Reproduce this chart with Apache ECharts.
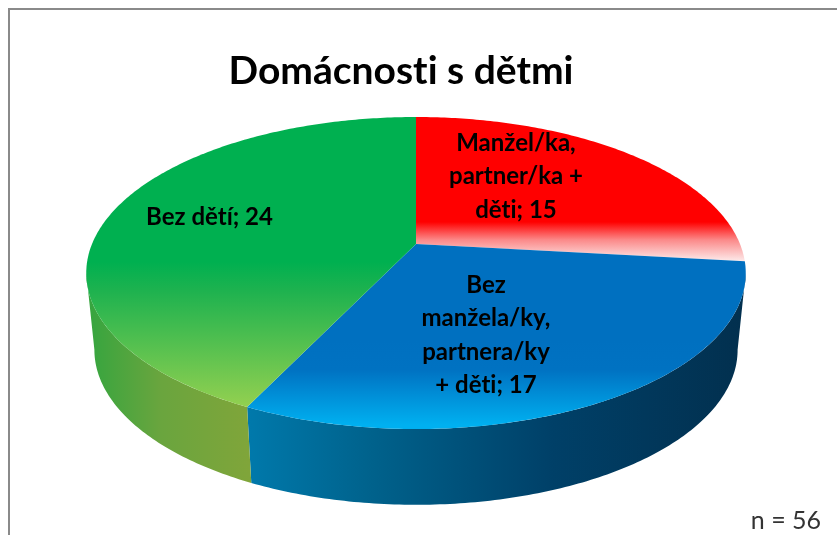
<!DOCTYPE html>
<html>
<head>
<meta charset="utf-8">
<style>
html,body{margin:0;padding:0;background:#fff}
#c{width:837px;height:535px;filter:blur(0.45px)}
#c text{font-variant-ligatures:none !important;font-feature-settings:"liga" 0,"clig" 0,"dlig" 0 !important}
</style>
<script src="https://cdn.jsdelivr.net/npm/echarts@6/dist/echarts.min.js"></script>
</head>
<body>
<div id="c"></div>
<script>
const titleText = 'Domácnosti s dětmi';
const noteText = 'n = 56';
const categories = ['Manžel/ka,\npartner/ka +\nděti', 'Bez\nmanžela/ky,\npartnera/ky\n+ děti', 'Bez dětí'];
const values = [15, 17, 24];

const FONT = 'Lato, "Open Sans", sans-serif';
const total = values.reduce((a, b) => a + b, 0);

// Perspective projection of the disc: top face and bottom face
const K = 0.186;
const topFace = { cx: 416, cy: 244, rx: 324, ry: 150.6 };
const botFace = { cx: 416, cy: 321, rx: 316, ry: 149.6 };
// Angles at which the projected disc reaches its left and right silhouette
const wallStart = Math.acos(-K);
const wallEnd = 2 * Math.PI - wallStart;

function project(face, theta) {
  const u = Math.sin(theta), v = Math.cos(theta), w = 1 + K * v;
  return [face.cx + face.rx * u / w, face.cy - face.ry * v / w];
}
function arc(face, a0, a1) {
  const n = Math.max(2, Math.ceil(Math.abs(a1 - a0) / (Math.PI / 240)));
  const pts = [];
  for (let i = 0; i <= n; i++) pts.push(project(face, a0 + (a1 - a0) * i / n));
  return pts;
}
function sliceAngles(i) {
  let s = 0;
  for (let j = 0; j < i; j++) s += values[j];
  return [s / total * 2 * Math.PI, (s + values[i]) / total * 2 * Math.PI];
}
function grad(x, y, x2, y2, stops) {
  return { type: 'linear', global: true, x, y, x2, y2,
    colorStops: stops.map(s => ({ offset: s[0], color: s[1] })) };
}
const topFills = [
  grad(0, 222, 0, 262, [[0, '#ff0000'], [0.45, '#fb8a8a'], [1, '#fdeeee']]),
  grad(0, 340, 0, 425, [[0, '#0070c0'], [0.35, '#0072c2'], [1, '#00b0f0']]),
  grad(0, 262, 0, 406, [[0, '#00b050'], [0.2, '#1eb24f'], [1, '#92d050']])
];
const wallFills = [
  '#c00000',
  grad(248, 0, 740, 0, [[0, '#0079ab'], [0.25, '#00628c'], [0.62, '#004068'], [1, '#02304f']]),
  grad(88, 0, 250, 0, [[0, '#35a53f'], [0.45, '#6aa53e'], [1, '#80a53a']])
];
const labelAnchors = [[516, 174.5], [486, 333.5], [209.5, 215]];

function renderWall(params, api) {
  const i = params.dataIndex, [a0, a1] = sliceAngles(i);
  const from = Math.max(a0, wallStart), to = Math.min(a1, wallEnd);
  if (to <= from) return null;
  const pts = arc(topFace, from, to).concat(arc(botFace, to, from));
  return { type: 'polygon', shape: { points: pts }, style: { fill: wallFills[i] } };
}
function renderTop(params, api) {
  const i = params.dataIndex, [a0, a1] = sliceAngles(i);
  const pts = [[topFace.cx, topFace.cy]].concat(arc(topFace, a0, a1));
  return { type: 'group', children: [
    { type: 'polygon', shape: { points: pts }, style: { fill: topFills[i] } },
    { type: 'text', z2: 10, style: {
        x: labelAnchors[i][0], y: labelAnchors[i][1],
        text: categories[i] + '; ' + api.value(0),
        fill: '#000', font: 'bold 24px ' + FONT, lineHeight: 33.5,
        align: 'center', verticalAlign: 'middle' } }
  ]};
}
const seriesData = values.map((v, i) => [v, i]);

const chart = echarts.init(document.getElementById('c'), null, { renderer: 'svg' });
chart.setOption({
  animation: false,
  backgroundColor: '#fff',
  series: [
    { type: 'custom', coordinateSystem: 'none', z: 1, silent: true, renderItem: renderWall, data: seriesData },
    { type: 'custom', coordinateSystem: 'none', z: 2, silent: true, renderItem: renderTop, data: seriesData }
  ],
  graphic: [
    { type: 'rect', z: 0, shape: { x: 8, y: 8, width: 900, height: 2 }, style: { fill: '#8a8a8a' } },
    { type: 'rect', z: 0, shape: { x: 8, y: 8, width: 2, height: 600 }, style: { fill: '#8a8a8a' } },
    { type: 'text', z: 5, style: { x: 401, y: 69, text: titleText, fill: '#000', font: 'bold 39px ' + FONT, align: 'center', verticalAlign: 'middle' } },
    { type: 'text', z: 5, style: { x: 786, y: 519, text: noteText, fill: '#333', font: '25px ' + FONT, align: 'center', verticalAlign: 'middle' } }
  ]
});
</script>
</body>
</html>
